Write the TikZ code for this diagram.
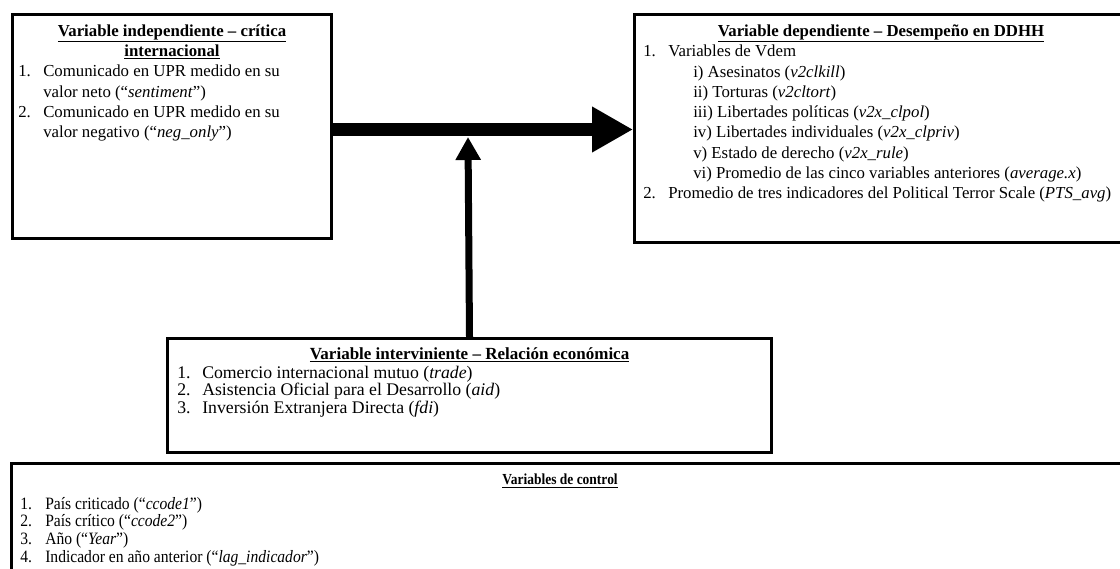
\documentclass[tikz,border=0pt]{standalone}
\usepackage{fontspec}
\setmainfont{Liberation Serif}
\newfontfamily\narrowfont[FakeStretch=0.88]{Liberation Serif}
\newfontfamily\listfont[FakeStretch=0.9]{Liberation Serif}
\usetikzlibrary{arrows.meta}
\newcommand{\hd}[1]{\underline{\textbf{#1}}}
\newcommand{\itm}[2]{\makebox[18.75pt][l]{#1}#2}

\begin{document}
\begin{tikzpicture}[x=0.75pt,y=-0.75pt,
  varbox/.style={draw,line width=2.25pt,anchor=north west,inner sep=0pt},
  vartext/.style={anchor=north west,align=left,inner sep=0pt,font=\fontsize{12.6}{15.2}\selectfont},
  head/.style={anchor=north,align=center,inner sep=0pt,font=\fontsize{12.6}{15.2}\selectfont},
  mainarrow/.style={line width=9.75pt,-{Triangle[length=30.75pt,width=32.25pt]}},
  sidearrow/.style={line width=5.25pt,-{Triangle[length=17.25pt,width=18pt]}}]
\useasboundingbox (0,0) rectangle (1120,568);
\clip (0,0) rectangle (1120,568);
\node[varbox,minimum width=239.25pt,minimum height=168pt] (indep) at (11,13) {};
\node[varbox,minimum width=372.75pt,minimum height=171pt] (dep) at (633,13) {};
\node[varbox,minimum width=453pt,minimum height=85.5pt] (interv) at (166,337) {};
\node[varbox,minimum width=843.75pt,minimum height=90pt] (control) at (10,462) {};
\node[head] (indephead) at ([yshift=-8.5pt]indep.north) {\hd{Variable independiente – crítica}\\ \hd{internacional}};
\node[vartext] (indeplist) at (18,65) {\itm{1.}{Comunicado en UPR medido en su}\\
  \itm{}{valor neto (“\textit{sentiment}”)}\\
  \itm{2.}{Comunicado en UPR medido en su}\\
  \itm{}{valor negativo (“\textit{neg\_only}”)}};
\node[head] (dephead) at ([yshift=-8.5pt]dep.north -| 881,0) {\hd{Variable dependiente – Desempeño en DDHH}};
\node[vartext] (deplist) at (643,45) {\itm{1.}{Variables de Vdem}\\
  \itm{}{\hspace*{18.75pt}i) Asesinatos (\textit{v2clkill})}\\
  \itm{}{\hspace*{18.75pt}ii) Torturas (\textit{v2cltort})}\\
  \itm{}{\hspace*{18.75pt}iii) Libertades políticas (\textit{v2x\_clpol})}\\
  \itm{}{\hspace*{18.75pt}iv) Libertades individuales (\textit{v2x\_clpriv})}\\
  \itm{}{\hspace*{18.75pt}v) Estado de derecho (\textit{v2x\_rule})}\\
  \itm{}{\hspace*{18.75pt}vi) Promedio de las cinco variables anteriores (\textit{average.x})}\\
  \itm{2.}{Promedio de tres indicadores del Political Terror Scale (\textit{PTS\_avg})}};
\node[head,font=\fontsize{12.75}{13}\selectfont] (intervhead) at ([yshift=-7.5pt]interv.north) {\hd{Variable interviniente – Relación económica}};
\node[vartext,font=\fontsize{13.3}{13}\selectfont] (intervlist) at (177,366) {\itm{1.}{Comercio internacional mutuo (\textit{trade})}\\
  \itm{2.}{Asistencia Oficial para el Desarrollo (\textit{aid})}\\
  \itm{3.}{Inversión Extranjera Directa (\textit{fdi})}};
\node[head,font=\narrowfont\fontsize{11.5}{13.2}\selectfont] (controlhead) at (560,474) {\hd{Variables de control}};
\node[vartext,font=\listfont\fontsize{13}{13.2}\selectfont] (controllist) at (20,497) {\itm{1.}{País criticado (“\textit{ccode1}”)}\\
  \itm{2.}{País crítico (“\textit{ccode2}”)}\\
  \itm{3.}{Año (“\textit{Year}”)}\\
  \itm{4.}{Indicador en año anterior (“\textit{lag\_indicador}”)}};
\coordinate (crit) at ([yshift=-2.25pt]indep.east);
\coordinate (mod) at (468,137);
\draw[mainarrow] (crit) -- (crit -| dep.west);
\draw[sidearrow] (interv.north) -- (mod);
\end{tikzpicture}
\end{document}
